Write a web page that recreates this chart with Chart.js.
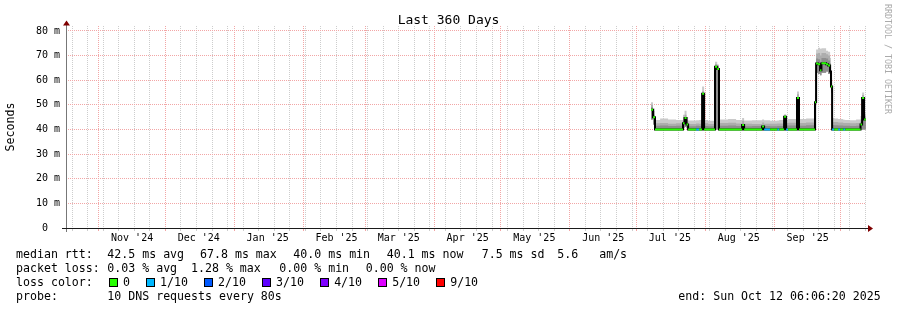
<!DOCTYPE html>
<html>
<head>
<meta charset="utf-8">
<title>Last 360 Days</title>
<script src="https://cdn.jsdelivr.net/npm/chart.js@4.4.1/dist/chart.umd.min.js"></script>
<style>
  body { margin: 0; background: #fff; }
  #wrap { position: relative; width: 897px; height: 310px; font-family: 'DejaVu Sans Mono', monospace; font-size: 11.6px; color: #000; }
  #wrap canvas { position: absolute; left: 0; top: 0; }
  .t { position: absolute; white-space: pre; line-height: 14px; }
  .sw { position: absolute; top: 278px; width: 7px; height: 7px; border: 1px solid #000; }
  #credit { position: absolute; left: 883px; top: 4px; writing-mode: vertical-rl; font-size: 8.3px; color: #aaa; white-space: pre; }
</style>
</head>
<body>
<div id="wrap">
  <canvas id="chart" width="897" height="310"></canvas>
  <div id="credit">RRDTOOL / TOBI OETIKER</div>

  <span class="t" style="left:16px;top:247px">median rtt:</span>
  <span class="t" style="left:107.3px;top:247px">42.5 ms avg</span>
  <span class="t" style="left:200px;top:247px">67.8 ms max</span>
  <span class="t" style="left:293.3px;top:247px">40.0 ms min</span>
  <span class="t" style="left:386.7px;top:247px">40.1 ms now</span>
  <span class="t" style="left:481.7px;top:247px">7.5 ms sd</span>
  <span class="t" style="left:557.3px;top:247px">5.6   am/s</span>

  <span class="t" style="left:16px;top:261px">packet loss:</span>
  <span class="t" style="left:107.3px;top:261px">0.03 % avg</span>
  <span class="t" style="left:191px;top:261px">1.28 % max</span>
  <span class="t" style="left:279.3px;top:261px">0.00 % min</span>
  <span class="t" style="left:365.7px;top:261px">0.00 % now</span>

  <span class="t" style="left:16px;top:275px">loss color:</span>
  <div id="lossLegend"></div>

  <span class="t" style="left:16px;top:289px">probe:</span>
  <span class="t" style="left:107.3px;top:289px">10 DNS requests every 80s</span>
  <span class="t" style="left:678.3px;top:289px">end: Sun Oct 12 06:06:20 2025</span>
</div>

<script>
// x values are days since 17 Oct 2024 00:00; the graph covers 360 days ending 12 Oct 2025 06:06
const viewStartDay = 0.254;
const viewEndDay = 360.254;

const monthStartDay = [15, 45, 76, 107, 135, 166, 196, 227, 257, 288, 319, 349];
const monthLabels = ["Nov '24", "Dec '24", "Jan '25", "Feb '25", "Mar '25", "Apr '25",
                     "May '25", "Jun '25", "Jul '25", "Aug '25", "Sep '25"];
const firstSunday = 3; // 20 Oct 2024

const yGridMs = [0, 5, 10, 15, 20, 25, 30, 35, 40, 45, 50, 55, 60, 65, 70, 75, 80];

const lossLevels = [0, 1, 2, 3, 4, 5, 9];
const lossLabels = ["0", "1/10", "2/10", "3/10", "4/10", "5/10", "9/10"];
const lossColors = ["#26ff00", "#00b8ff", "#0059ff", "#5e00ff", "#7e00ff", "#dd00ff", "#ff0000"];

// samples (each value holds until the next sample)
const sampleDay = [263.5, 264.4, 265.3, 267.6, 271.2, 274.8, 277.9, 278.6, 279.5, 280.2,
                   283.8, 285.1, 286.5, 287.4, 289.2, 292.3, 293.3, 294.1, 298.2, 301.8,
                   304.5, 305.4, 309.0, 313.5, 314.4, 317.1, 320.3, 321.2, 323.4, 324.3,
                   325.2, 329.2, 330.1, 333.3, 337.3, 337.8, 338.7, 339.6, 340.2, 342.3,
                   343.2, 344.1, 344.5, 345.0, 345.9, 347.7, 348.6, 350.0, 350.9, 353.1,
                   355.8, 357.8, 358.5, 359.4, 360.2];
const medianMs = [48, 45, 40, 40, 40, 40, 42.5, 44.7, 42, 40,
                  40, 40, 54.5, 40, 40, 65.5, 64.5, 40, 40, 40,
                  41.8, 40, 40, 41.2, 40, 40, 40, 40, 45.2, 40,
                  40, 52.8, 40, 40, 51, 66.8, 66.5, 64, 66.9, 66.5,
                  66, 63.5, 57.4, 40, 40, 40, 40, 40, 40, 40,
                  40, 42, 52.8, 44, 44];
const lossTenths = [0, 0, 0, 0, 0, 0, 0, 0, 0, 0,
                    1, 0, 0, 0, 0, 0, 0, 0, 0, 0,
                    0, 0, 0, 0, 1, 0, 1, 0, 0, 1,
                    0, 0, 0, 0, 0, 0, 0, 0, 0, 0,
                    0, 0, 0, 1, 0, 1, 0, 1, 0, 0,
                    0, 0, 0, 0, 0];
const smokeLow = [44, 42, 40, 40, 40, 40, 40.5, 41, 40.5, 40,
                  40, 40, 40, 40, 40, 40, 40, 40, 40, 40,
                  40, 40, 40, 40, 40, 40, 40, 40, 40, 40,
                  40, 40, 40, 40, 40, 63, 62.5, 62, 63, 63.5,
                  62.5, 61, 55, 40, 40, 40, 40, 40, 40, 40,
                  40, 40, 40, 40, 40];
const smokeDark = [49, 46, 41.5, 41.6, 41.4, 41.5, 43.5, 45, 42.8, 41.3,
                   41.5, 41.4, 54.5, 41.4, 41.3, 65.8, 64.8, 41.5, 41.6, 41.4,
                   42.3, 41.3, 41.4, 41.8, 41.4, 41.3, 41.4, 41.4, 45.4, 41.6,
                   41.6, 53.2, 41.5, 41.7, 55, 68.8, 68.5, 67, 69, 68.8,
                   68, 65.5, 59, 41.8, 41.7, 41.6, 41.6, 41.5, 41.5, 41.4,
                   41.5, 43, 53, 44.5, 44.5];
const smokeMid = [50, 47.5, 42.5, 42.6, 42.3, 42.5, 44.5, 46, 43.8, 42.2,
                  42.4, 42.3, 55.5, 42.5, 42.2, 66.6, 65.6, 42.6, 42.7, 42.4,
                  43.5, 42.3, 42.2, 42.8, 42.3, 42.3, 42.4, 42.4, 45.8, 42.6,
                  42.7, 54.3, 42.6, 42.8, 60, 70.8, 71, 70, 71, 70.5,
                  70, 67, 61, 43, 43, 42.8, 42.8, 42.6, 42.6, 42.5,
                  42.6, 44, 54, 45.5, 45.5];
const smokeHigh = [51, 48.5, 43.8, 44.4, 44, 43.8, 46, 47.6, 45, 43.6,
                   43.7, 43.8, 57.4, 43.8, 43.5, 67.5, 66.4, 44, 44.2, 43.8,
                   44.7, 43.6, 43.7, 44, 43.7, 43.5, 43.6, 43.8, 46.2, 43.9,
                   44.2, 55.4, 44.2, 44.5, 64, 72.5, 73.2, 72.8, 73, 72,
                   71.5, 69, 63, 44.7, 44.5, 44.2, 44.2, 43.9, 43.8, 43.7,
                   44, 45.5, 55, 46.5, 46.5];

const font = "'DejaVu Sans Mono', monospace";
const grayGrid = "#cdcdcd";
const redGrid = "#f2a6a6";

const pts = arr => sampleDay.map((d, i) => ({ x: d, y: arr[i] }));

// horizontal median pieces, coloured by loss
const lossRuns = lossLevels.map(level => {
  const data = [];
  for (let i = 0; i < sampleDay.length - 1; i++) {
    if (lossTenths[i] !== level) continue;
    data.push({ x: sampleDay[i], y: medianMs[i] }, { x: sampleDay[i + 1], y: medianMs[i] }, { x: sampleDay[i + 1], y: null });
  }
  return data;
});

const smoke = (data, color, order) => ({
  data: pts(data), stepped: true, fill: 0, backgroundColor: color,
  borderWidth: 0, pointRadius: 0, order: order
});

const datasets = [
  { data: pts(smokeLow), stepped: true, borderWidth: 0, pointRadius: 0, fill: false, order: 9 },
  smoke(smokeHigh, "#cacaca", 8),
  smoke(smokeMid, "#adadad", 7),
  smoke(smokeDark, "#8e8e8e", 6),
  { data: pts(medianMs), stepped: true, borderColor: "#000", borderWidth: 2, pointRadius: 0, fill: false, order: 5 }
];
lossLevels.forEach((level, k) => {
  if (!lossRuns[k].length) return;
  datasets.push({ data: lossRuns[k], borderColor: lossColors[k], borderWidth: 2, pointRadius: 0,
                  fill: false, spanGaps: false, order: 1 });
});

const gridAxis = (tickDays, color) => ({
  type: "linear", position: "bottom", min: viewStartDay, max: viewEndDay,
  afterBuildTicks: s => { s.ticks = tickDays.map(v => ({ value: v })); },
  afterFit: s => { s.height = 0; },
  ticks: { display: false },
  grid: { color: color, tickColor: color, tickLength: 3, drawTicks: true, lineWidth: 1 },
  border: { display: false, dash: [1, 1] }
});

const sundays = [];
for (let d = firstSunday; d <= viewEndDay; d += 7) sundays.push(d);
const labelDays = monthLabels.map((m, i) => monthStartDay[i] + 15);

// axis lines with rrdtool style arrows
const axesPlugin = {
  id: "axes",
  afterDraw(chart) {
    const { ctx, chartArea: a } = chart;
    ctx.save();
    ctx.lineWidth = 1;
    ctx.strokeStyle = "#777";
    ctx.beginPath();
    ctx.moveTo(a.left + 0.5, a.bottom + 4);
    ctx.lineTo(a.left + 0.5, a.top - 1);
    ctx.stroke();
    ctx.strokeStyle = "#1a1a1a";
    ctx.beginPath();
    ctx.moveTo(a.left - 4, a.bottom + 0.5);
    ctx.lineTo(a.right + 2, a.bottom + 0.5);
    ctx.stroke();
    ctx.fillStyle = "#7f0000";
    ctx.beginPath();
    ctx.moveTo(a.right + 2, a.bottom - 3);
    ctx.lineTo(a.right + 7, a.bottom + 0.5);
    ctx.lineTo(a.right + 2, a.bottom + 4);
    ctx.closePath();
    ctx.fill();
    ctx.beginPath();
    ctx.moveTo(a.left - 3, a.top - 0.5);
    ctx.lineTo(a.left + 0.5, a.top - 5.5);
    ctx.lineTo(a.left + 4, a.top - 0.5);
    ctx.closePath();
    ctx.fill();
    ctx.restore();
  }
};

Chart.defaults.font.family = font;

new Chart(document.getElementById("chart"), {
  type: "line",
  data: { datasets: datasets },
  options: {
    responsive: false,
    animation: false,
    events: [],
    layout: { padding: 0 },
    plugins: {
      legend: { display: false },
      tooltip: { enabled: false },
      title: {
        display: true, text: "Last 360 Days", color: "#000",
        font: { family: font, size: 13, weight: "normal", lineHeight: 1 },
        padding: { top: 14, bottom: -1 }
      }
    },
    scales: {
      xWeek: gridAxis(sundays, grayGrid),
      xMonth: gridAxis(monthStartDay, redGrid),
      x: {
        type: "linear", position: "bottom", min: viewStartDay, max: viewEndDay,
        afterBuildTicks: s => { s.ticks = labelDays.map(v => ({ value: v })); },
        afterFit: s => { s.height = 82; },
        grid: { display: false, drawTicks: false },
        border: { display: false },
        ticks: {
          autoSkip: false, maxRotation: 0, padding: 4, color: "#000",
          font: { family: font, size: 10 },
          callback: (v, i) => monthLabels[i]
        }
      },
      y: {
        type: "linear", position: "left", min: 0, max: 82,
        afterBuildTicks: s => { s.ticks = yGridMs.map(v => ({ value: v })); },
        afterFit: s => { s.width = 66; },
        grid: { color: c => (c.tick && c.tick.value % 10 === 0) ? redGrid : grayGrid, drawTicks: false, lineWidth: 1 },
        border: { display: false, dash: [1, 1] },
        ticks: {
          padding: 6, color: "#000", font: { family: font, size: 10 },
          callback: v => v % 10 ? "" : (v === 0 ? "0  " : v + " m")
        },
        title: {
          display: true, text: "Seconds", color: "#000",
          font: { family: font, size: 11.6 }, padding: { top: 4, bottom: 0 }
        }
      },
      yPad: {
        type: "linear", position: "right", min: 0, max: 1,
        afterFit: s => { s.width = 31; },
        grid: { display: false }, border: { display: false }, ticks: { display: false }
      }
    }
  },
  plugins: [axesPlugin]
});

// loss colour legend
const lossBox = document.getElementById("lossLegend");
let lx = 108.5;
lossLabels.forEach((label, k) => {
  const sw = document.createElement("span");
  sw.className = "sw";
  sw.style.left = lx + "px";
  sw.style.background = lossColors[k];
  lossBox.appendChild(sw);
  const tx = document.createElement("span");
  tx.className = "t";
  tx.style.left = (lx + 14.5) + "px";
  tx.style.top = "275px";
  tx.textContent = label;
  lossBox.appendChild(tx);
  lx += 14.5 + label.length * 6.98 + 15.6;
});
</script>
</body>
</html>
